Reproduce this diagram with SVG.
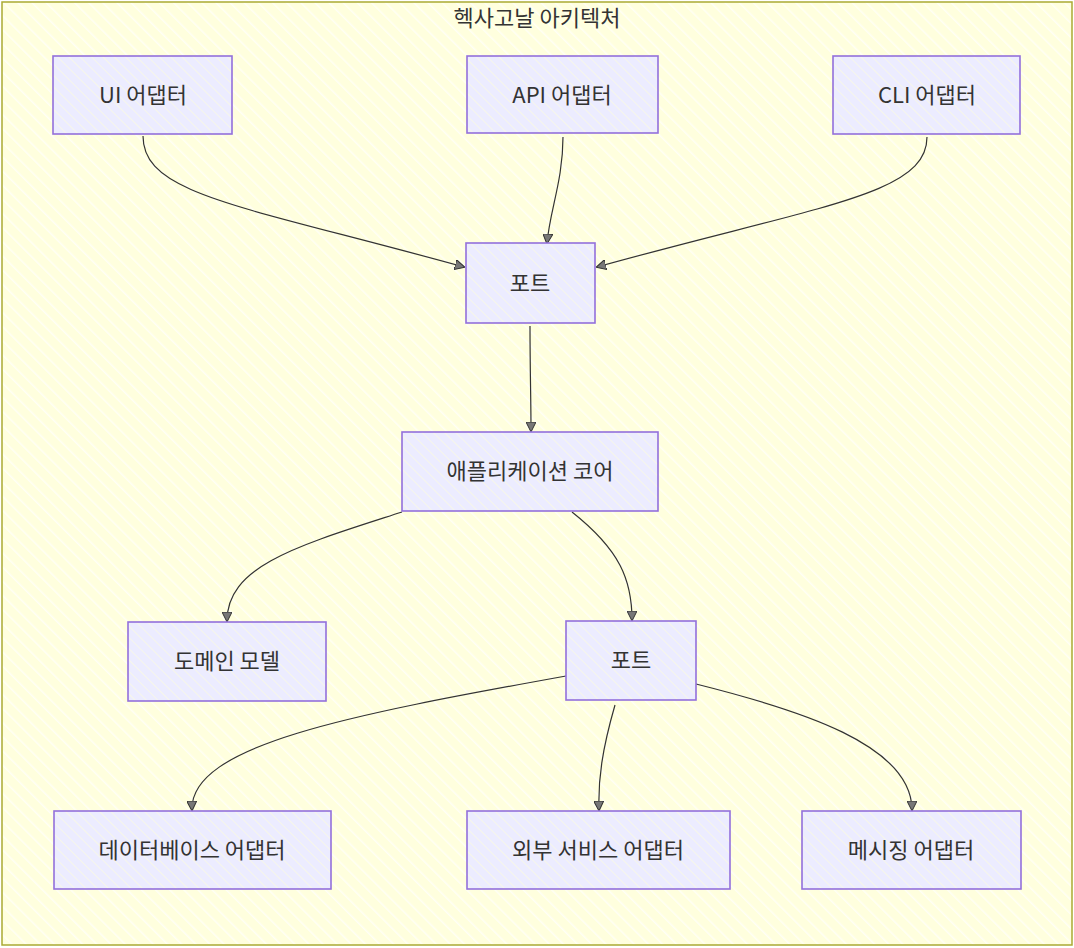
<svg xmlns="http://www.w3.org/2000/svg" width="1074" height="948" viewBox="0 0 1074 948">
<style>
.node rect{fill:url(#nodeHatch);stroke:#9370DB;stroke-width:1.6}
.node text{font-family:"Noto Sans CJK KR","Noto Sans",sans-serif;font-size:22px;fill:#333;text-anchor:middle;dominant-baseline:central}
.edges path{fill:none;stroke:#333;stroke-width:1.2;marker-end:url(#arrow)}
.title{font-family:"Noto Sans CJK KR","Noto Sans",sans-serif;font-size:22px;fill:#333;text-anchor:middle}
</style>
<defs>
<pattern id="bgHatch" width="10" height="10" patternUnits="userSpaceOnUse" patternTransform="rotate(-45)">
<rect width="10" height="10" fill="#ffffde"/>
<line x1="0" y1="0" x2="0" y2="10" stroke="#ffffff" stroke-width="3" opacity="0.7"/>
</pattern>
<pattern id="nodeHatch" width="8" height="8" patternUnits="userSpaceOnUse" patternTransform="rotate(-45)">
<rect width="8" height="8" fill="#ECECFF"/>
<line x1="0" y1="0" x2="0" y2="8" stroke="#f6f6ea" stroke-width="2"/>
</pattern>
<marker id="arrow" viewBox="0 0 10 10" refX="9" refY="5" markerWidth="10" markerHeight="10" markerUnits="userSpaceOnUse" orient="auto">
<path d="M0,0 L10,5 L0,10 z" fill="#777" stroke="#333" stroke-width="1"/>
</marker>
</defs>
<rect x="2" y="2" width="1070" height="943" fill="url(#bgHatch)" stroke="#aaaa33" stroke-width="1.5"/>
<text class="title" x="537" y="26">헥사고날 아키텍처</text>
<g class="edges">
<path d="M143,136 C143,195 240,205 464,267"/>
<path d="M563,137 C563,180 550,210 547,243"/>
<path d="M927,137 C927,195 820,205 597,267"/>
<path d="M530,326 C530,370 531,400 531,431"/>
<path d="M402,512 C300,545 227,565 227,621"/>
<path d="M572,512 C620,550 632,580 632,620"/>
<path d="M566,676 C350,715 190,745 192,810"/>
<path d="M615,705 C602,750 598,780 599,810"/>
<path d="M696,684 C800,710 912,745 912,810"/>
</g>
<g id="ui" class="node"><rect x="53" y="56" width="179" height="78"/><text x="143" y="93">UI 어댑터</text></g>
<g id="api" class="node"><rect x="467" y="56" width="191" height="77"/><text x="562" y="93">API 어댑터</text></g>
<g id="cli" class="node"><rect x="833" y="56" width="187" height="78"/><text x="927" y="93">CLI 어댑터</text></g>
<g id="port1" class="node"><rect x="466" y="243" width="129" height="80"/><text x="530" y="281">포트</text></g>
<g id="core" class="node"><rect x="402" y="432" width="256" height="79"/><text x="530" y="469">애플리케이션 코어</text></g>
<g id="domain" class="node"><rect x="128" y="622" width="198" height="79"/><text x="227" y="659">도메인 모델</text></g>
<g id="port2" class="node"><rect x="566" y="621" width="130" height="79"/><text x="631" y="658">포트</text></g>
<g id="db" class="node"><rect x="54" y="811" width="277" height="78"/><text x="192" y="848">데이터베이스 어댑터</text></g>
<g id="ext" class="node"><rect x="467" y="811" width="263" height="78"/><text x="598" y="848">외부 서비스 어댑터</text></g>
<g id="msg" class="node"><rect x="802" y="811" width="219" height="78"/><text x="911" y="848">메시징 어댑터</text></g>
</svg>
